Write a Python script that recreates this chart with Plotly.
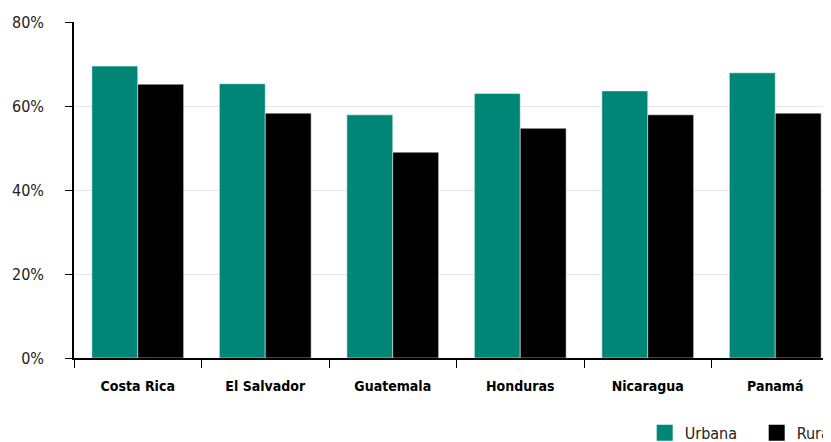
import plotly.graph_objects as go

categories = ["Costa Rica", "El Salvador", "Guatemala", "Honduras", "Nicaragua", "Panamá"]
urbana = [69.5, 65.3, 57.9, 63.0, 63.6, 67.9]
rural = [65.2, 58.3, 49.0, 54.7, 57.9, 58.3]
y_ticks = [0, 20, 40, 60, 80]
y_tick_labels = ["0%", "20%", "40%", "60%", "80%"]
series_names = ["Urbana", "Rural"]
series_colors = ["#008677", "#000000"]

FONT = "DejaVu Sans Condensed, Liberation Sans Narrow, Roboto, sans-serif"

fig = go.Figure()
for name, vals, col in zip(series_names, [urbana, rural], series_colors):
    fig.add_trace(go.Bar(name=name, x=categories, y=vals, showlegend=False,
                         marker=dict(color=col, line=dict(color="rgba(255,255,255,0.5)", width=1))))
# legend entries with larger square swatches
for name, col in zip(series_names, series_colors):
    fig.add_trace(go.Scatter(name=name, x=[None], y=[None], mode="markers",
                             marker=dict(symbol="square", size=18, color=col), showlegend=True))

fig.update_layout(
    width=831, height=442,
    margin=dict(l=66, r=0, t=14, b=92, autoexpand=False),
    barmode="group", bargap=0.28, bargroupgap=0,
    plot_bgcolor="white", paper_bgcolor="white",
    font=dict(family=FONT, color="#222222", size=16),
    legend=dict(orientation="h", x=0.746, xanchor="left", y=-0.223, yanchor="middle",
                font=dict(size=16, family=FONT, color="#222222"),
                entrywidth=67, entrywidthmode="pixels", itemclick=False,
                itemsizing="trace"),
    showlegend=True,
)
fig.update_xaxes(
    range=[-0.5, 5.5],
    showline=True, linecolor="#000000", linewidth=1.5,
    ticks="outside", tickson="boundaries", ticklen=8, tickcolor="#000000", tickwidth=1,
    tickfont=dict(size=14, family=FONT, color="#000000", weight="bold"),
    ticklabelstandoff=14,
    showgrid=False,
)
fig.update_yaxes(
    range=[0, 80], tickvals=y_ticks, ticktext=y_tick_labels,
    showline=True, linecolor="#000000", linewidth=1.5,
    ticks="outside", ticklen=7, tickcolor="#000000",
    showgrid=True, gridcolor="#e6e6e6", gridwidth=1,
    tickfont=dict(size=16, family=FONT, color="#222222"),
    ticklabelstandoff=18,
    zeroline=False,
)

fig.write_html("out.html")
